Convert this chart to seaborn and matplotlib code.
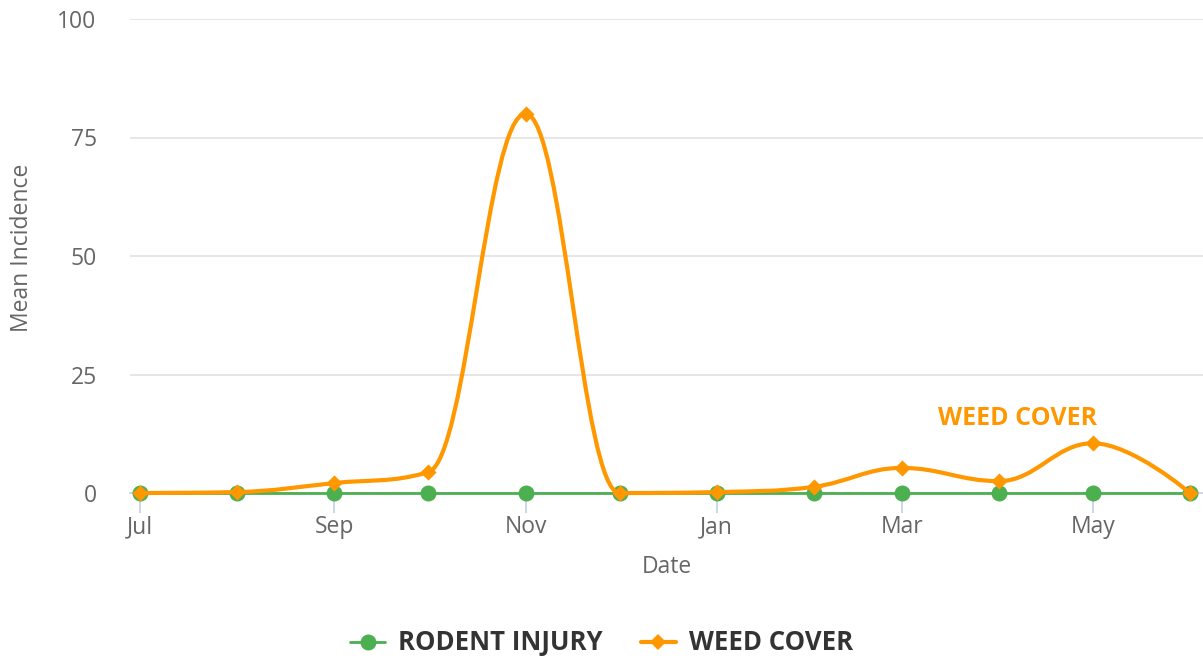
import numpy as np
import pandas as pd
import matplotlib
matplotlib.use("Agg")
import matplotlib.pyplot as plt
import matplotlib.dates as mdates
from matplotlib.path import Path
from matplotlib.patches import PathPatch
from matplotlib.lines import Line2D
import seaborn as sns

# ----------------------------------------------------------
# DATA
# ----------------------------------------------------------
dates = pd.to_datetime([
    "2018-07-01", "2018-08-01", "2018-09-01", "2018-10-01",
    "2018-11-01", "2018-12-01", "2019-01-01", "2019-02-01",
    "2019-03-01", "2019-04-01", "2019-05-01", "2019-06-01",
])
rodent_injury = [0, 0, 0, 0, 0, 0, 0, 0, 0, 0, 0, 0]
weed_cover = [0, 0.2, 2.1, 4.4, 80, 0, 0.2, 1.3, 5.3, 2.5, 10.5, 0]

series_names = ["RODENT INJURY", "WEED COVER"]
y_ticks = [0, 25, 50, 75, 100]

GREEN = "#4caf50"
ORANGE = "#ff9800"
GRAY = "#666666"
AXIS = "#ccd6eb"


def spline_path(xs, ys, smoothing=1.5):
    # smooth curve through the points, same idea as a highcharts "spline"
    denom = smoothing + 1
    n = len(xs)
    verts = [(xs[0], ys[0])]
    codes = [Path.MOVETO]
    right = [None] * n
    for i in range(1, n):
        px, py = xs[i], ys[i]
        lcx, lcy = px, py
        if i < n - 1:
            lx, ly = xs[i - 1], ys[i - 1]
            nx, ny = xs[i + 1], ys[i + 1]
            lcx = (smoothing * px + lx) / denom
            lcy = (smoothing * py + ly) / denom
            rcx = (smoothing * px + nx) / denom
            rcy = (smoothing * py + ny) / denom
            corr = (rcy - lcy) * (rcx - px) / (rcx - lcx) + py - rcy
            lcy += corr
            rcy += corr
            if lcy > ly and lcy > py:
                lcy = max(ly, py)
                rcy = 2 * py - lcy
            elif lcy < ly and lcy < py:
                lcy = min(ly, py)
                rcy = 2 * py - lcy
            if rcy > ny and rcy > py:
                rcy = max(ny, py)
                lcy = 2 * py - rcy
            elif rcy < ny and rcy < py:
                rcy = min(ny, py)
                lcy = 2 * py - rcy
            right[i] = (rcx, rcy)
        prev = right[i - 1] if right[i - 1] is not None else (xs[i - 1], ys[i - 1])
        verts += [prev, (lcx, lcy), (px, py)]
        codes += [Path.CURVE4] * 3
    return Path(verts, codes)


# ----------------------------------------------------------
# STYLE
# ----------------------------------------------------------
sns.set_style("white")
plt.rcParams["font.family"] = ["Open Sans", "DejaVu Sans"]

df = pd.DataFrame({"Date": dates, "rodent": rodent_injury, "weed": weed_cover})

fig = plt.figure(figsize=(12.03, 6.58), dpi=100)
ax = fig.add_axes([130 / 1203, 165 / 658, 1073 / 1203, 474 / 658])

# ----------------------------------------------------------
# SERIES
# ----------------------------------------------------------
sns.lineplot(data=df, x="Date", y="rodent", ax=ax, color=GREEN, linewidth=2,
             marker="o", markersize=11.5, markeredgewidth=0, clip_on=False,
             zorder=3)

xnum = mdates.date2num(df["Date"])
curve = PathPatch(spline_path(list(xnum), list(df["weed"])), fill=False,
                  edgecolor=ORANGE, linewidth=3, clip_on=False, zorder=4,
                  capstyle="round", joinstyle="round")
ax.add_patch(curve)

sns.scatterplot(data=df, x="Date", y="weed", ax=ax, color=ORANGE, marker="D",
                s=68, linewidth=0, clip_on=False, zorder=5)

ax.text(mdates.date2num(pd.Timestamp("2019-04-07")), 15.8, "WEED COVER",
        color=ORANGE, fontsize=18, fontweight="bold", ha="center", va="center")

# ----------------------------------------------------------
# AXES
# ----------------------------------------------------------
x0 = mdates.date2num(dates[0])
x1 = mdates.date2num(dates[-1])
px_per_day = (1190 - 140) / (x1 - x0)
ax.set_xlim(x0 - 10 / px_per_day, x1 + 13 / px_per_day)
ax.set_ylim(0, 100)
ax.set_yticks(y_ticks)

ax.xaxis.set_major_locator(mdates.MonthLocator(bymonth=[7, 9, 11, 1, 3, 5]))
ax.xaxis.set_major_formatter(mdates.DateFormatter("%b"))

ax.grid(axis="y", color="#e6e6e6", linewidth=1.4)
ax.grid(axis="x", visible=False)
ax.set_axisbelow(True)
for s in ["top", "right", "left"]:
    ax.spines[s].set_visible(False)
ax.spines["bottom"].set_color(AXIS)
ax.spines["bottom"].set_linewidth(1.4)
ax.spines["bottom"].set_zorder(2)

ax.tick_params(axis="x", colors=AXIS, length=14.4, width=1.4, pad=1.5,
               labelcolor=GRAY, labelsize=16.5, direction="out", bottom=True)
ax.tick_params(axis="y", length=0, pad=24, labelcolor=GRAY, labelsize=16.5)

ax.set_xlabel("Date", color=GRAY, fontsize=16.5)
ax.set_ylabel("Mean Incidence", color=GRAY, fontsize=16.5)
ax.xaxis.set_label_coords(0.5, (493 - 567) / 474)
ax.yaxis.set_label_coords((22 - 130) / 1073, (493 - 247.5) / 474)
ax.xaxis.label.set_va("center")
ax.yaxis.label.set_va("center")

# ----------------------------------------------------------
# LEGEND
# ----------------------------------------------------------
handles = [
    Line2D([0], [0], color=GREEN, linewidth=2, marker="o", markersize=11.5,
           markeredgewidth=0),
    Line2D([0], [0], color=ORANGE, linewidth=3, marker="D", markersize=8.2,
           markeredgewidth=0),
]
leg = fig.legend(handles, series_names, loc="center", bbox_to_anchor=(0.5, 15 / 658),
                 ncol=2, frameon=False, handlelength=1.35, handletextpad=0.5,
                 columnspacing=1.5, prop={"size": 18.5, "weight": "bold"})
for t in leg.get_texts():
    t.set_color("#333333")

fig.savefig("out.png", dpi=100)
